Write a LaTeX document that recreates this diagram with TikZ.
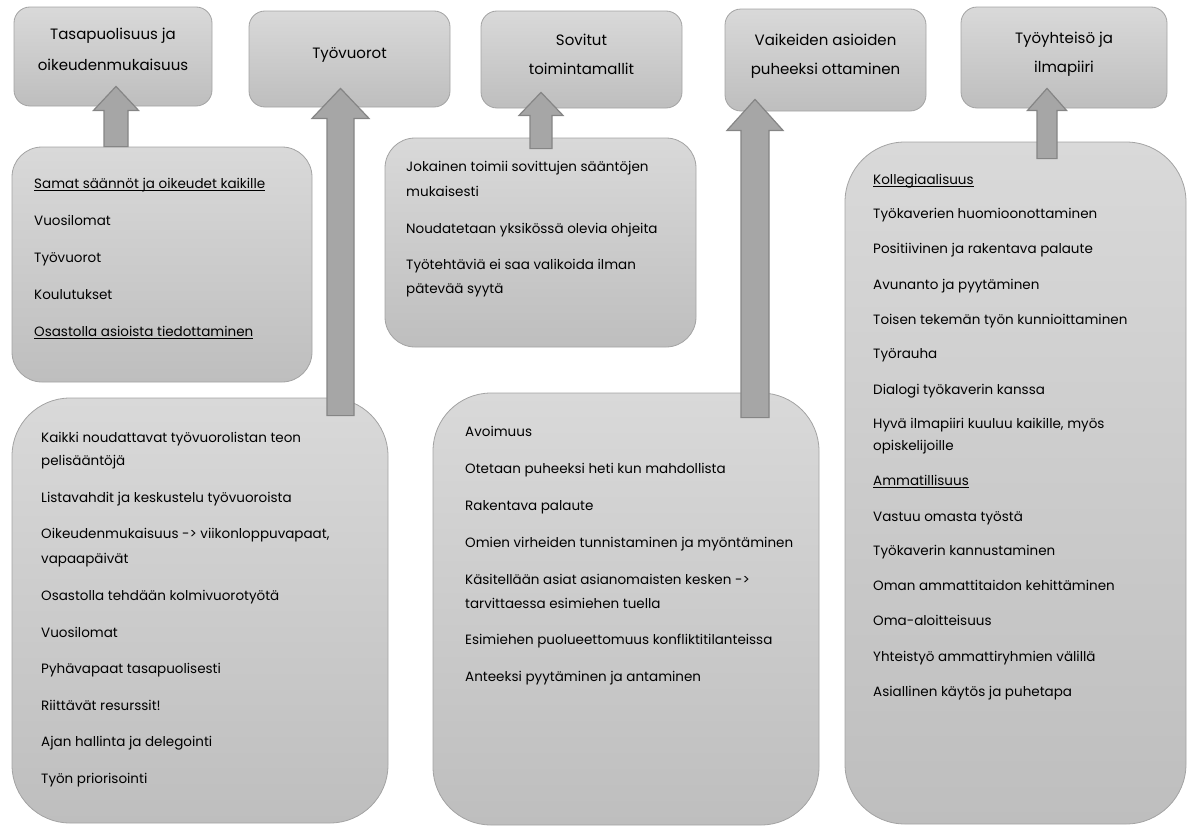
\documentclass[tikz,border=0pt]{standalone}
\usepackage{fontspec}
\setmainfont{Poppins}
\usetikzlibrary{calc}

\definecolor{boxtop}{HTML}{D9D9D9}
\definecolor{boxbot}{HTML}{BEBEBE}
\definecolor{boxline}{HTML}{A3A3A3}
\definecolor{arrfill}{HTML}{A6A6A6}
\definecolor{arrline}{HTML}{858585}

% underline drawn at a fixed depth below the baseline
\newcommand\undl[1]{\setbox0=\hbox{#1}\rlap{\vrule height -1.8pt depth 2.6pt width \wd0}\box0}

\tikzset{
  boxbase/.style={draw=boxline, line width=0.8pt, top color=boxtop, bottom color=boxbot, inner sep=0pt},
  headbox/.style={boxbase, rounded corners=16pt},
  listbox/.style={boxbase, rounded corners=#1},
  headtext/.style={font=\fontsize{15}{17}\selectfont, anchor=base, inner sep=0pt},
  item/.style={font=\fontsize{13.5}{16}\selectfont, anchor=base west, inner sep=0pt},
  blockarr/.style={fill=arrfill, draw=arrline, line width=1.2pt, line join=miter},
}

% block arrow: base point, tip point, shaft half width, head half width, head length
\newcommand\blockarrow[5]{%
  \draw[blockarr] let \p1=(#1), \p2=(#2) in
    (\x1-#3,\y1) -- (\x1-#3,\y2-#5) -- (\x1-#4,\y2-#5) -- (\x1,\y2)
    -- (\x1+#4,\y2-#5) -- (\x1+#3,\y2-#5) -- (\x1+#3,\y1) -- cycle;}

\begin{document}
\begin{tikzpicture}[x=1pt,y=-1pt]
\useasboundingbox (0,0) rectangle (1194,827);

% heading boxes
\node[headbox, minimum width=198pt, minimum height=99pt] (h1) at (113,56.5) {};
\node[headbox, minimum width=201pt, minimum height=96pt] (h2) at (349.5,59) {};
\node[headbox, minimum width=201pt, minimum height=97pt] (h3) at (581.5,59.5) {};
\node[headbox, minimum width=201pt, minimum height=102pt] (h4) at (825.5,60) {};
\node[headbox, minimum width=206pt, minimum height=101pt] (h5) at (1064,57.5) {};

\node[headtext] (h1a) at (113,39) {Tasapuolisuus ja};
\node[headtext] (h1b) at (113,70) {oikeudenmukaisuus};
\node[headtext] (h2a) at (349.5,58) {Työvuorot};
\node[headtext] (h3a) at (581.5,45.5) {Sovitut};
\node[headtext] (h3b) at (581.5,74.5) {toimintamallit};
\node[headtext] (h4a) at (825.5,45) {Vaikeiden asioiden};
\node[headtext] (h4b) at (825.5,74) {puheeksi ottaminen};
\node[headtext] (h5a) at (1064,43) {Työyhteisö ja};
\node[headtext] (h5b) at (1064,72) {ilmapiiri};

% content boxes
\node[listbox=30pt, minimum width=300pt, minimum height=235pt] (mA) at (162,264.5) {};
\node[listbox=30pt, minimum width=311pt, minimum height=209pt] (mB) at (540.5,242.5) {};
\node[listbox=60pt, minimum width=341pt, minimum height=682pt] (mC) at (1015.5,483) {};
\node[listbox=58pt, minimum width=376pt, minimum height=425pt] (mD) at (200,610.5) {};
\node[listbox=58pt, minimum width=386pt, minimum height=432pt] (mE) at (626,609) {};

% content texts
\foreach \y/\t [count=\i] in {
  188/{\undl{Samat säännöt ja oikeudet kaikille}},
  225/Vuosilomat,
  262/Työvuorot,
  299/Koulutukset,
  336/{\undl{Osastolla asioista tiedottaminen}}}
  \node[item] (tA\i) at (34,\y) {\t};

\foreach \y/\t [count=\i] in {
  171/Jokainen toimii sovittujen sääntöjen,
  196/mukaisesti,
  233/Noudatetaan yksikössä olevia ohjeita,
  269/Työtehtäviä ei saa valikoida ilman,
  293/pätevää syytä}
  \node[item] (tB\i) at (406,\y) {\t};

\foreach \y/\t [count=\i] in {
  184/{\undl{Kollegiaalisuus}},
  218/Työkaverien huomioonottaminen,
  253/Positiivinen ja rakentava palaute,
  289/Avunanto ja pyytäminen,
  324/Toisen tekemän työn kunnioittaminen,
  358/Työrauha,
  394/Dialogi työkaverin kanssa,
  428/{Hyvä ilmapiiri kuuluu kaikille, myös},
  450/opiskelijoille,
  485/{\undl{Ammatillisuus}},
  521/Vastuu omasta työstä,
  555/Työkaverin kannustaminen,
  590/Oman ammattitaidon kehittäminen,
  625/Oma-aloitteisuus,
  661/Yhteistyö ammattiryhmien välillä,
  696/Asiallinen käytös ja puhetapa}
  \node[item] (tC\i) at (873,\y) {\t};

\foreach \y/\t [count=\i] in {
  442/Kaikki noudattavat työvuorolistan teon,
  465/pelisääntöjä,
  502/Listavahdit ja keskustelu työvuoroista,
  538/{Oikeudenmukaisuus -> viikonloppuvapaat,},
  563/vapaapäivät,
  600/Osastolla tehdään kolmivuorotyötä,
  637/Vuosilomat,
  673/Pyhävapaat tasapuolisesti,
  710/Riittävät resurssit!,
  746/Ajan hallinta ja delegointi,
  783/Työn priorisointi}
  \node[item] (tD\i) at (41,\y) {\t};

\foreach \y/\t [count=\i] in {
  436/Avoimuus,
  473/Otetaan puheeksi heti kun mahdollista,
  510/Rakentava palaute,
  547/Omien virheiden tunnistaminen ja myöntäminen,
  584/{Käsitellään asiat asianomaisten kesken ->},
  608/tarvittaessa esimiehen tuella,
  644/Esimiehen puolueettomuus konfliktitilanteissa,
  681/Anteeksi pyytäminen ja antaminen}
  \node[item] (tE\i) at (465,\y) {\t};

% arrow ends
\coordinate (a1b) at ($(mA.north)+(-46,0)$);
\coordinate (a1t) at ($(h1.south)+(3,-20)$);
\coordinate (a2b) at ($(mD.north)+(140.5,18)$);
\coordinate (a2t) at ($(h2.south)+(-9,-19)$);
\coordinate (a3b) at ($(mB.north)+(0.5,11)$);
\coordinate (a3t) at ($(h3.south)+(-40.5,-16)$);
\coordinate (a4b) at ($(mE.north)+(129,25)$);
\coordinate (a4t) at ($(h4.south)+(-70.5,-12)$);
\coordinate (a5b) at ($(mC.north)+(31.5,17)$);
\coordinate (a5t) at ($(h5.south)+(-17,-20)$);

\blockarrow{a1b}{a1t}{12pt}{22.5pt}{24pt}
\blockarrow{a2b}{a2t}{13.5pt}{28.5pt}{30pt}
\blockarrow{a3b}{a3t}{11pt}{22pt}{23pt}
\blockarrow{a4b}{a4t}{14pt}{28pt}{31pt}
\blockarrow{a5b}{a5t}{10pt}{19.5pt}{22pt}
\end{tikzpicture}
\end{document}
